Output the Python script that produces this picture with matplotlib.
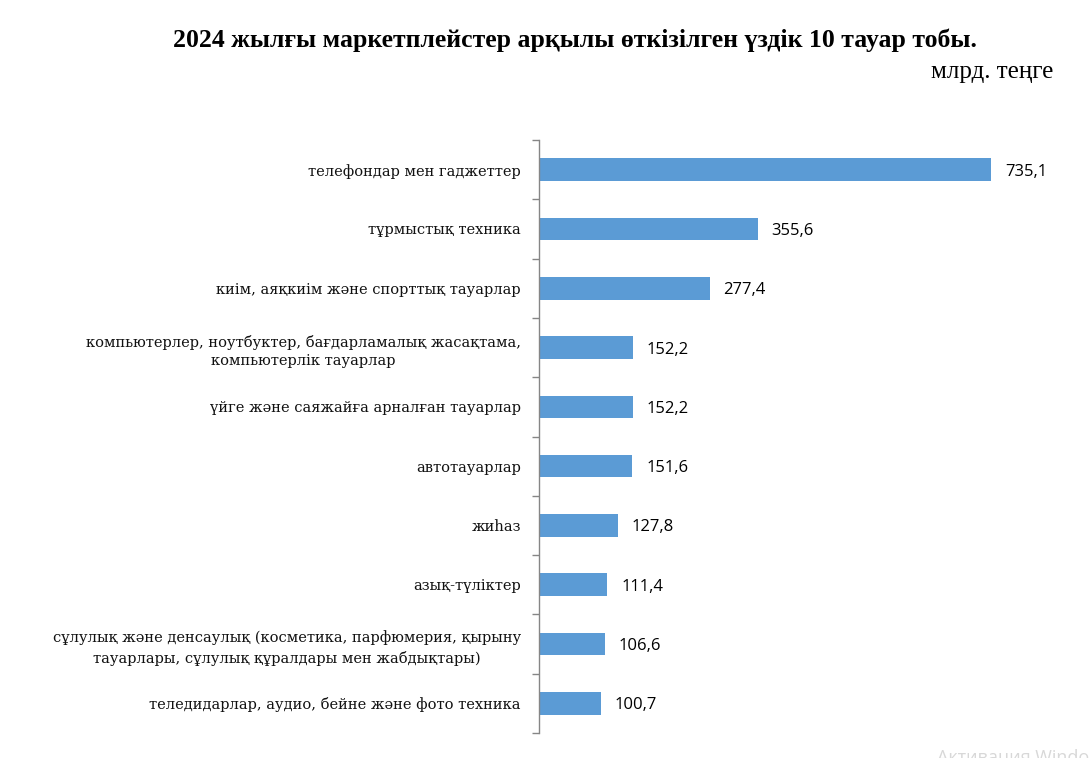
import matplotlib
matplotlib.use("Agg")
import matplotlib.pyplot as plt
from matplotlib.ticker import FixedLocator, NullLocator
import numpy as np

categories = [
    "телефондар мен гаджеттер",
    "тұрмыстық техника",
    "киім, аяқкиім және спорттық тауарлар",
    "компьютерлер, ноутбуктер, бағдарламалық жасақтама,\nкомпьютерлік тауарлар",
    "үйге және саяжайға арналған тауарлар",
    "автотауарлар",
    "жиһаз",
    "азық-түліктер",
    "сұлулық және денсаулық (косметика, парфюмерия, қырыну\nтауарлары, сұлулық құралдары мен жабдықтары)",
    "теледидарлар, аудио, бейне және фото техника",
]
values = [735.1, 355.6, 277.4, 152.2, 152.2, 151.6, 127.8, 111.4, 106.6, 100.7]
value_labels = ["735,1", "355,6", "277,4", "152,2", "152,2", "151,6", "127,8", "111,4", "106,6", "100,7"]

title = "2024 жылғы маркетплейстер арқылы өткізілген үздік 10 тауар тобы."
unit = "млрд. теңге"

fig = plt.figure(figsize=(10.89, 7.58), dpi=100)
ax = fig.add_axes([539/1089, 25/758, (1065-539)/1089, (733-140)/758])

y = np.arange(len(categories))
ax.barh(y, values, height=0.38, color="#5B9BD5")
ax.set_ylim(len(categories) - 0.5, -0.5)
ax.set_xlim(0, 735.1 * (1065 - 539) / (991 - 539))

for yi, v, lab in zip(y, values, value_labels):
    ax.annotate(lab, (v, yi), xytext=(10, 0), textcoords="offset points",
                va="center_baseline", ha="left", fontsize=12, family="Open Sans", color="#000000")

for s in ["top", "right", "bottom"]:
    ax.spines[s].set_visible(False)
ax.spines["left"].set_color("#868686")
ax.spines["left"].set_linewidth(1.0)
ax.xaxis.set_major_locator(NullLocator())
ax.yaxis.set_major_locator(FixedLocator(y))
ax.yaxis.set_minor_locator(FixedLocator(np.arange(-0.5, len(categories), 1.0)))
ax.set_yticklabels(categories, family="DejaVu Serif", fontsize=10.5, ha="right",
                   multialignment="center", color="#111111", linespacing=1.45)
ax.tick_params(axis="y", which="major", length=0, pad=13)
ax.tick_params(axis="y", which="minor", length=5, color="#868686", width=1.0)

fig.text(575/1089, 1 - 40/758, title, ha="center", va="center", fontsize=18.5,
         family="Liberation Serif", fontweight="bold")
fig.text(1053/1089, 1 - 72/758, unit, ha="right", va="center", fontsize=18,
         family="Liberation Serif")
fig.text(937/1089, 1 - 757/758, "Активация Windows", ha="left", va="center",
         fontsize=13, family="Open Sans", color="#d8d8d8")

fig.savefig("out.png", dpi=100)
